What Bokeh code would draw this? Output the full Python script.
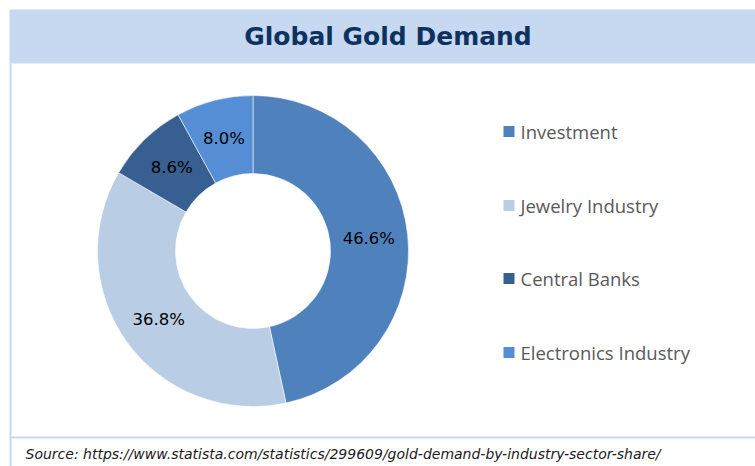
import numpy as np
from bokeh.plotting import figure
from bokeh.models import Range1d, ColumnDataSource
from bokeh.core.properties import value
from bokeh.embed import file_html
from bokeh.resources import INLINE

# ---- data ----
categories = ["Investment", "Jewelry Industry", "Central Banks", "Electronics Industry"]
shares = [46.6, 36.8, 8.6, 8.0]
labels = ["46.6%", "36.8%", "8.6%", "8.0%"]
colors = ["#4F81BD", "#B9CDE5", "#375F91", "#558ED5"]
title_text = "Global Gold Demand"
source_text = "Source: https://www.statista.com/statistics/299609/gold-demand-by-industry-sector-share/"

W, H = 755, 466
p = figure(width=W, height=H, output_backend="svg", toolbar_location=None,
           x_range=Range1d(0, W), y_range=Range1d(0, H),
           x_axis_type=None, y_axis_type=None, min_border=0)
p.grid.visible = False
p.outline_line_color = None
p.background_fill_color = "white"
p.border_fill_color = "white"

# frame decorations
band = "#C6D9F1"
p.quad(left=[9], right=[W], bottom=[403], top=[457], fill_color=band, line_color=None)
p.quad(left=[9], right=[11], bottom=[0], top=[403], fill_color=band, line_color=None)
p.quad(left=[9], right=[W], bottom=[28], top=[30], fill_color=band, line_color=None)
p.text(x=[387.5], y=[430], text=[title_text], text_align="center", text_baseline="middle",
       text_font=value("DejaVu Sans"), text_font_style="bold", text_font_size="25px",
       text_color="#0E3260")
p.text(x=[25], y=[13], text=[source_text], text_align="left", text_baseline="middle",
       text_font=value("DejaVu Sans"), text_font_style="italic", text_font_size="14px",
       text_color="#1A1A1A")

# donut
cx, cy = 252.5, 215.5
r_out, r_in = 155.5, 77.5
frac = np.array(shares) / sum(shares)
cum = np.concatenate([[0], np.cumsum(frac)])
start = np.pi / 2 - cum[:-1] * 2 * np.pi
end = np.pi / 2 - cum[1:] * 2 * np.pi
mid = (start + end) / 2
src = ColumnDataSource(dict(start=start, end=end, color=colors, cat=categories))
p.annular_wedge(x=cx, y=cy, inner_radius=r_in, outer_radius=r_out,
                start_angle="start", end_angle="end", direction="clock",
                fill_color="color", line_color="white", line_width=0.8, line_alpha=0.7,
                source=src)
r_lab = (r_in + r_out) / 2
p.text(x=cx + r_lab * np.cos(mid), y=cy + r_lab * np.sin(mid), text=labels,
       text_align="center", text_baseline="middle", text_font=value("DejaVu Sans"),
       text_font_size="16.5px", text_color="#000000")

# legend (manual)
leg_y = [335, 261, 188, 114]
p.scatter(x=[508.5] * 4, y=leg_y, marker="square", size=11, fill_color=colors, line_color=None)
p.text(x=[520] * 4, y=leg_y, text=categories, text_align="left", text_baseline="middle",
       text_font=value("Open Sans"), text_font_size="18.5px", text_color="#595959")

open("out.html", "w").write(file_html(p, INLINE))
